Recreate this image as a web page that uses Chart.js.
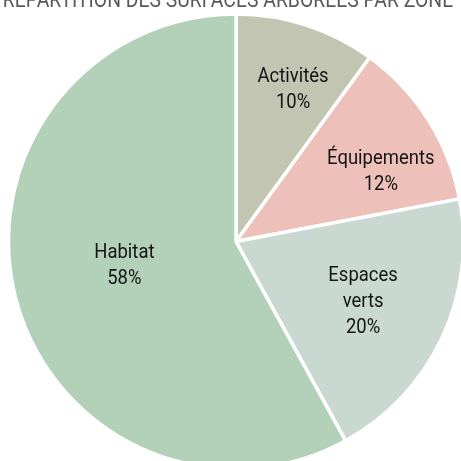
<!DOCTYPE html>
<html lang="fr">
<head>
<meta charset="UTF-8">
<title>Répartition des surfaces arborées par zone</title>
<script src="https://cdn.jsdelivr.net/npm/chart.js"></script>
<style>
    html, body { margin: 0; padding: 0; overflow: hidden; background: #fff; }
    #wrap { position: absolute; left: 0; top: 0; width: 461px; height: 483px; }
</style>
</head>
<body>
<div id="wrap"><canvas id="pie"></canvas></div>
<script>
const title = 'RÉPARTITION DES SURFACES ARBORÉES PAR ZONE';
const categories = ['Activités', 'Équipements', 'Espaces verts', 'Habitat'];
const shares = [10, 12, 20, 58];
const sliceColors = ['#c3c5b3', '#edc1b9', '#c9d9d2', '#b3d1b9'];

// where each label sits: fraction of the radius, and a small angle nudge (degrees)
const labelRadius = [0.72, 0.71, 0.615, 0.50];
const labelShift = [2.4, 6.1, -0.5, 3.3];

const SQUEEZE = 0.88; // narrow the Roboto glyphs a bit

function squeezedText(ctx, text, x, y) {
    ctx.save();
    ctx.translate(x, y);
    ctx.scale(SQUEEZE, 1);
    ctx.fillText(text, 0, 0);
    ctx.restore();
}

const sliceLabels = {
    id: 'sliceLabels',
    afterDatasetsDraw(chart) {
        const ctx = chart.ctx;
        const meta = chart.getDatasetMeta(0);
        ctx.save();
        ctx.fillStyle = '#141414';
        ctx.font = '21px Roboto';
        ctx.textAlign = 'center';
        ctx.textBaseline = 'alphabetic';
        meta.data.forEach((arc, i) => {
            const p = arc.getProps(['x', 'y', 'startAngle', 'endAngle', 'outerRadius'], true);
            const a = (p.startAngle + p.endAngle) / 2 + labelShift[i] * Math.PI / 180;
            const r = p.outerRadius * labelRadius[i];
            const cx = p.x + Math.cos(a) * r;
            const cy = p.y + Math.sin(a) * r;
            const lines = categories[i].split(' ').concat([shares[i] + '%']);
            const lh = 26;
            let y = cy - (lines.length - 1) * lh / 2 + 7.5;
            lines.forEach(line => {
                squeezedText(ctx, line, cx, y);
                y += lh;
            });
        });
        ctx.restore();
    },
    afterDraw(chart) {
        const ctx = chart.ctx;
        ctx.save();
        ctx.fillStyle = '#595959';
        ctx.font = '22px Roboto';
        ctx.textAlign = 'center';
        ctx.textBaseline = 'alphabetic';
        squeezedText(ctx, title, 228, 7);
        ctx.restore();
    }
};

new Chart(document.getElementById('pie'), {
    type: 'pie',
    data: {
        labels: categories,
        datasets: [{
            data: shares,
            backgroundColor: sliceColors,
            borderColor: '#ffffff',
            borderWidth: 3.5,
            hoverOffset: 0
        }]
    },
    options: {
        responsive: true,
        maintainAspectRatio: false,
        animation: false,
        radius: 227.5,
        layout: { padding: { left: 11, right: 0, top: 0, bottom: 0 } },
        plugins: {
            legend: { display: false },
            tooltip: { enabled: false },
            title: { display: false }
        }
    },
    plugins: [sliceLabels]
});
</script>
</body>
</html>
